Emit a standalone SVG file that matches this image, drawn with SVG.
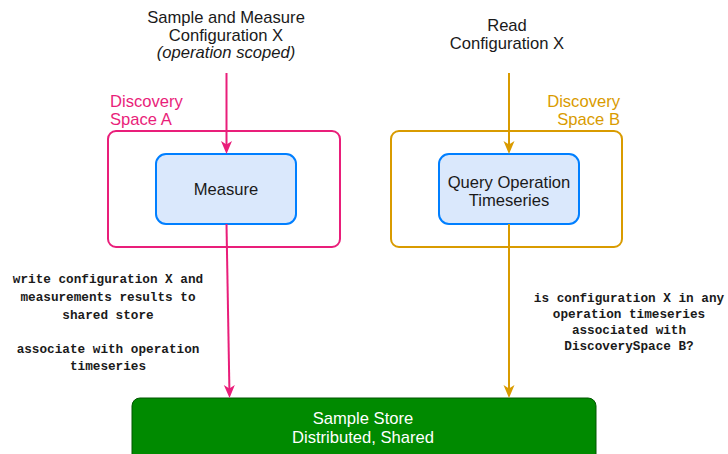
<svg xmlns="http://www.w3.org/2000/svg" width="728" height="454" viewBox="0 0 728 454">
  <style>
    .lbl { font-family: "Liberation Sans", Arial, sans-serif; font-size: 16.6px; fill: #1a1a1a; }
    .mono { font-family: "Liberation Mono", "Courier New", monospace; font-size: 12.7px; font-weight: bold; fill: #1a1a1a; }
    .space { fill: none; stroke-width: 2; }
    .op { fill: #dae8fc; stroke: #007fff; stroke-width: 2; }
    .pink { stroke: #e91e7a; }
    .gold { stroke: #d99b00; }
    .wire { fill: none; stroke-width: 2; }
  </style>
  <defs>
    <!-- notched arrowheads; tip sits 8px past the line end -->
    <marker id="headPink" viewBox="-6 -6 15 12" refX="0" refY="0" markerWidth="15" markerHeight="12" markerUnits="userSpaceOnUse" orient="auto">
      <path d="M8,0 L-5,-5.5 L-1.5,0 L-5,5.5 Z" fill="#e91e7a"/>
    </marker>
    <marker id="headGold" viewBox="-6 -6 15 12" refX="0" refY="0" markerWidth="15" markerHeight="12" markerUnits="userSpaceOnUse" orient="auto">
      <path d="M8,0 L-5,-5.5 L-1.5,0 L-5,5.5 Z" fill="#d99b00"/>
    </marker>
  </defs>
  <rect width="728" height="454" fill="#ffffff"/>

  <!-- top captions -->
  <g id="caption-sample">
    <text class="lbl" text-anchor="middle" x="226" y="22.5">Sample and Measure</text>
    <text class="lbl" text-anchor="middle" x="226" y="40.5">Configuration X</text>
    <text class="lbl" text-anchor="middle" x="226" y="58" font-style="italic">(operation scoped)</text>
  </g>
  <g id="caption-read">
    <text class="lbl" text-anchor="middle" x="507" y="31">Read</text>
    <text class="lbl" text-anchor="middle" x="507" y="49">Configuration X</text>
  </g>

  <!-- discovery space A -->
  <g id="space-a">
    <rect class="space pink" x="108" y="131" width="232" height="116" rx="8"/>
    <text class="lbl" x="110" y="107" style="fill:#e91e7a">Discovery</text>
    <text class="lbl" x="110" y="125" style="fill:#e91e7a">Space A</text>
  </g>
  <g id="measure">
    <rect class="op" x="156" y="154" width="140" height="70" rx="10"/>
    <text class="lbl" text-anchor="middle" x="226" y="195">Measure</text>
  </g>

  <!-- discovery space B -->
  <g id="space-b">
    <rect class="space gold" x="391" y="131" width="231" height="116" rx="8"/>
    <text class="lbl" text-anchor="end" x="620" y="107" style="fill:#d99b00">Discovery</text>
    <text class="lbl" text-anchor="end" x="620" y="125" style="fill:#d99b00">Space B</text>
  </g>
  <g id="query">
    <rect class="op" x="439" y="154" width="140" height="70" rx="10"/>
    <text class="lbl" text-anchor="middle" x="509" y="187.5">Query Operation</text>
    <text class="lbl" text-anchor="middle" x="509" y="205.5">Timeseries</text>
  </g>

  <!-- shared store -->
  <g id="sample-store">
    <rect x="132" y="398" width="464" height="70" rx="8" fill="#008a00" stroke="#005700" stroke-width="1"/>
    <text class="lbl" text-anchor="middle" x="363" y="424" style="fill:#ffffff">Sample Store</text>
    <text class="lbl" text-anchor="middle" x="363" y="443" style="fill:#ffffff">Distributed, Shared</text>
  </g>

  <!-- connectors -->
  <g id="connectors">
    <line class="wire pink" x1="226.5" y1="73" x2="226.5" y2="146" marker-end="url(#headPink)"/>
    <line class="wire gold" x1="509" y1="73" x2="509" y2="146" marker-end="url(#headGold)"/>
    <line class="wire pink" x1="226.5" y1="224" x2="229.4" y2="390" marker-end="url(#headPink)"/>
    <line class="wire gold" x1="509" y1="224" x2="509" y2="390" marker-end="url(#headGold)"/>
  </g>

  <!-- connector notes -->
  <g id="note-write">
    <text class="mono" text-anchor="middle" x="108" y="283">write configuration X and</text>
    <text class="mono" text-anchor="middle" x="108" y="301">measurements results to</text>
    <text class="mono" text-anchor="middle" x="108" y="318.5">shared store</text>
    <text class="mono" text-anchor="middle" x="108" y="353">associate with operation</text>
    <text class="mono" text-anchor="middle" x="108" y="370">timeseries</text>
  </g>
  <g id="note-query">
    <text class="mono" text-anchor="middle" x="629" y="302">is configuration X in any</text>
    <text class="mono" text-anchor="middle" x="629" y="318">operation timeseries</text>
    <text class="mono" text-anchor="middle" x="629" y="334">associated with</text>
    <text class="mono" text-anchor="middle" x="629" y="350">DiscoverySpace B?</text>
  </g>
</svg>
